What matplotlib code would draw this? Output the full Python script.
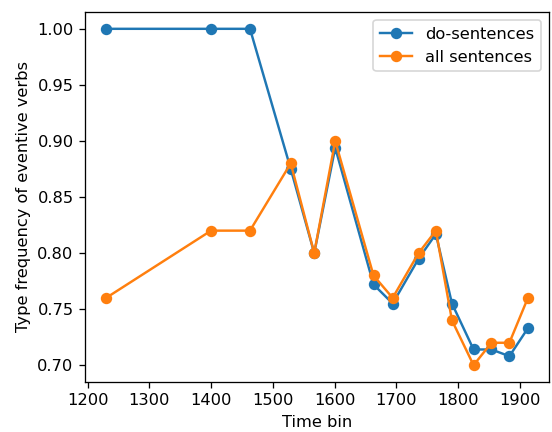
import matplotlib
matplotlib.use("Agg")
import matplotlib.pyplot as plt

# Time bins (mean year of each bin)
bins = [1230, 1400, 1463, 1529, 1567, 1601, 1663, 1694, 1736, 1764, 1790, 1825, 1854, 1883, 1913]

# Type frequency of eventive verbs
do_sentences = [1.00, 1.00, 1.00, 0.875, 0.80, 0.894, 0.772, 0.755, 0.795, 0.817, 0.755, 0.714, 0.714, 0.708, 0.733]
all_sentences = [0.76, 0.82, 0.82, 0.88, 0.80, 0.90, 0.78, 0.76, 0.80, 0.82, 0.74, 0.70, 0.72, 0.72, 0.76]

dpi = 117
fig = plt.figure(figsize=(552 / dpi, 432 / dpi), dpi=dpi)
ax = fig.add_axes([85 / 552, 1 - 382 / 432, (549 - 85) / 552, (382 - 12) / 432])

ax.plot(bins, do_sentences, marker='o', label='do-sentences')
ax.plot(bins, all_sentences, marker='o', label='all sentences')

ax.set_xlabel('Time bin')
ax.set_ylabel('Type frequency of eventive verbs')
ax.legend(loc='upper right')

fig.savefig('out.png', dpi=dpi)
